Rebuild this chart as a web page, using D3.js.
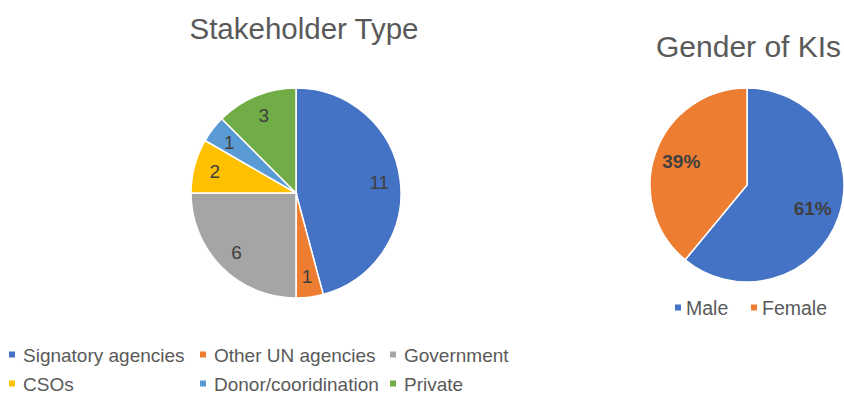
<!DOCTYPE html>
<html>
<head>
<meta charset="utf-8">
<script src="https://cdn.jsdelivr.net/npm/d3@7"></script>
<style>
  body { margin: 0; background: #fff; }
  svg { display: block; font-family: "Liberation Sans", Arial, sans-serif; }
</style>
</head>
<body>
<div id="chart"></div>
<script>
// data
const stakeholderTypes = ["Signatory agencies", "Other UN agencies", "Government", "CSOs", "Donor/cooridination", "Private"];
const stakeholderCounts = [11, 1, 6, 2, 1, 3];
const stakeholderColors = ["#4472C4", "#ED7D31", "#A5A5A5", "#FFC000", "#5B9BD5", "#70AD47"];

const genderLabels = ["Male", "Female"];
const genderShares = [61, 39];
const genderColors = ["#4472C4", "#ED7D31"];

const width = 844;
const height = 396;

const svg = d3.select("#chart")
  .append("svg")
  .attr("width", width)
  .attr("height", height);

const pie = d3.pie().value((d) => d.value).sort(null);

// left pie
const left = { cx: 296, cy: 193, r: 105 };
const stakeData = stakeholderTypes.map((name, i) => ({ name, value: stakeholderCounts[i], color: stakeholderColors[i] }));
const arcL = d3.arc().innerRadius(0).outerRadius(left.r);
const labelArcL = d3.arc().innerRadius(left.r * 0.8).outerRadius(left.r * 0.8);

const gL = svg.append("g").attr("transform", `translate(${left.cx},${left.cy})`);
gL.selectAll("path")
  .data(pie(stakeData))
  .join("path")
  .attr("d", arcL)
  .attr("fill", (d) => d.data.color)
  .attr("stroke", "#fff")
  .attr("stroke-width", 1.5);

gL.selectAll("text")
  .data(pie(stakeData))
  .join("text")
  .attr("transform", (d) => `translate(${labelArcL.centroid(d)})`)
  .attr("text-anchor", "middle")
  .attr("dy", "0.35em")
  .attr("font-size", "19px")
  .attr("fill", "#404040")
  .text((d) => d.data.value);

// title
svg.append("text")
  .attr("x", 304)
  .attr("y", 39)
  .attr("text-anchor", "middle")
  .attr("font-size", "29.5px")
  .attr("fill", "#595959")
  .text("Stakeholder Type");

// legend left
const legendL = svg.append("g");
const legendCols = [9, 200, 390];
const legendRows = [355, 384];
stakeData.forEach((d, i) => {
  const x = legendCols[i % 3];
  const y = legendRows[Math.floor(i / 3)];
  legendL.append("rect")
    .attr("x", x).attr("y", y - 3.5)
    .attr("width", 6).attr("height", 6)
    .attr("fill", d.color);
  legendL.append("text")
    .attr("x", x + 14).attr("y", y)
    .attr("dy", "0.35em")
    .attr("font-size", "19px")
    .attr("fill", "#595959")
    .text(d.name);
});

// right pie
const right = { cx: 747, cy: 185, r: 97 };
const genderData = genderLabels.map((name, i) => ({ name, value: genderShares[i], color: genderColors[i] }));
const arcR = d3.arc().innerRadius(0).outerRadius(right.r);
const labelArcR = d3.arc().innerRadius(right.r * 0.72).outerRadius(right.r * 0.72);

const gR = svg.append("g").attr("transform", `translate(${right.cx},${right.cy})`);
gR.selectAll("path")
  .data(pie(genderData))
  .join("path")
  .attr("d", arcR)
  .attr("fill", (d) => d.data.color)
  .attr("stroke", "#fff")
  .attr("stroke-width", 1.5);

gR.selectAll("text")
  .data(pie(genderData))
  .join("text")
  .attr("transform", (d) => `translate(${labelArcR.centroid(d)})`)
  .attr("text-anchor", "middle")
  .attr("dy", "0.35em")
  .attr("font-size", "19px")
  .attr("font-weight", "bold")
  .attr("fill", "#404040")
  .text((d) => d.data.value + "%");

svg.append("text")
  .attr("x", 656)
  .attr("y", 57)
  .attr("font-size", "30px")
  .attr("fill", "#595959")
  .text("Gender of KIs");

// legend right
const legendR = svg.append("g");
const legendRX = [675, 751];
genderData.forEach((d, i) => {
  const x = legendRX[i];
  const y = 308;
  legendR.append("rect")
    .attr("x", x).attr("y", y - 3.5)
    .attr("width", 6).attr("height", 6)
    .attr("fill", d.color);
  legendR.append("text")
    .attr("x", x + 11).attr("y", y)
    .attr("dy", "0.35em")
    .attr("font-size", "19.5px")
    .attr("fill", "#595959")
    .text(d.name);
});
</script>
</body>
</html>
